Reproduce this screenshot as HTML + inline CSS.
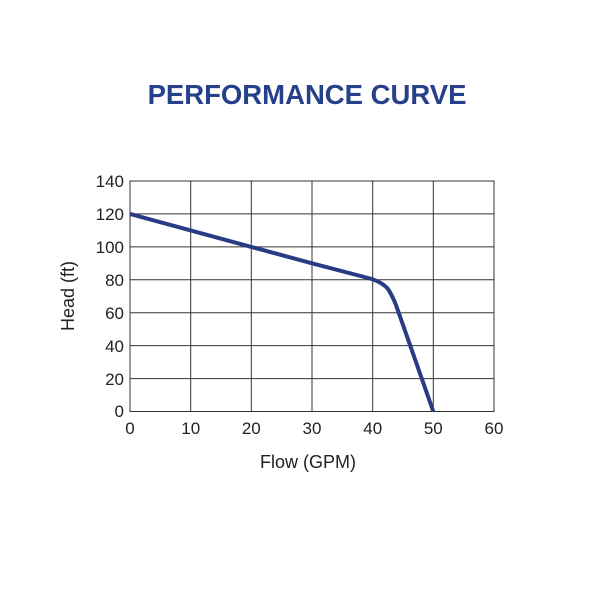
<!DOCTYPE html>
<html><head><style>body{margin:0;background:#fff}</style></head><body>
<svg width="600" height="600" xmlns="http://www.w3.org/2000/svg" font-family="Liberation Sans, Arial, sans-serif">
<rect width="600" height="600" fill="#fff"/>
<text x="307" y="104" text-anchor="middle" font-size="27.5" font-weight="bold" fill="#26408a">PERFORMANCE CURVE</text>
<g stroke="#333" stroke-width="1" fill="none">
<rect x="130" y="181" width="364" height="230.5"/>
<line x1="190.7" y1="181" x2="190.7" y2="411.5"/>
<line x1="251.3" y1="181" x2="251.3" y2="411.5"/>
<line x1="312" y1="181" x2="312" y2="411.5"/>
<line x1="372.7" y1="181" x2="372.7" y2="411.5"/>
<line x1="433.3" y1="181" x2="433.3" y2="411.5"/>
<line x1="130" y1="213.9" x2="494" y2="213.9"/>
<line x1="130" y1="246.9" x2="494" y2="246.9"/>
<line x1="130" y1="279.8" x2="494" y2="279.8"/>
<line x1="130" y1="312.7" x2="494" y2="312.7"/>
<line x1="130" y1="345.6" x2="494" y2="345.6"/>
<line x1="130" y1="378.6" x2="494" y2="378.6"/>
</g>
<path d="M130,213.9 L251.3,246.9 L312,263.3 L370,278.5 Q382,282 388,289 Q392,295 396,305 L433.3,411.5" stroke="#2a3b85" stroke-width="4" fill="none" stroke-linejoin="round"/>
<g font-size="17" fill="#222" text-anchor="end">
<text x="124" y="187">140</text><text x="124" y="220">120</text><text x="124" y="253">100</text>
<text x="124" y="286">80</text><text x="124" y="319">60</text><text x="124" y="352">40</text>
<text x="124" y="385">20</text><text x="124" y="417">0</text>
</g>
<g font-size="17" fill="#222" text-anchor="middle">
<text x="130" y="434">0</text><text x="190.7" y="434">10</text><text x="251.3" y="434">20</text>
<text x="312" y="434">30</text><text x="372.7" y="434">40</text><text x="433.3" y="434">50</text><text x="494" y="434">60</text>
</g>
<g font-size="18" fill="#222" text-anchor="middle">
<text x="308" y="468">Flow (GPM)</text>
<text transform="translate(74,296) rotate(-90)">Head (ft)</text>
</g>
</svg>
</body></html>
